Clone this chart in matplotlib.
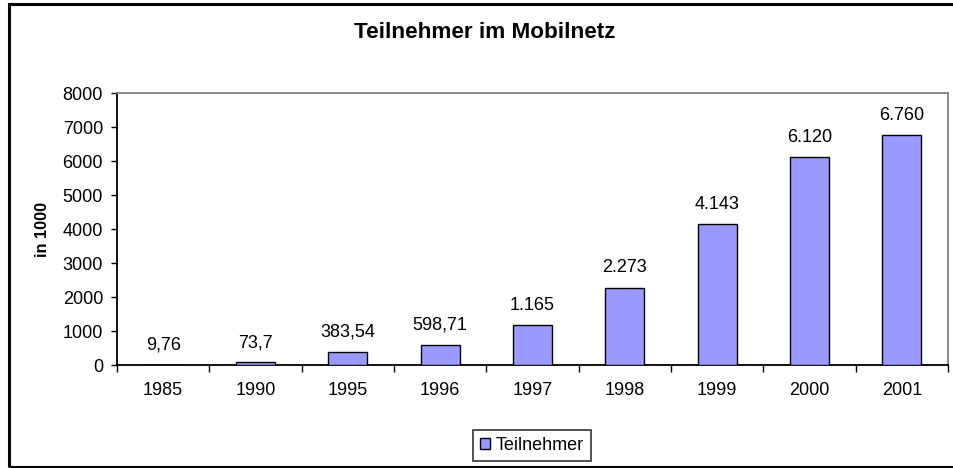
import matplotlib.pyplot as plt
from matplotlib.patches import Rectangle
import numpy as np

plt.rcParams['font.family'] = ['Liberation Sans', 'DejaVu Sans']

years = ['1985', '1990', '1995', '1996', '1997', '1998', '1999', '2000', '2001']
teilnehmer = [9.76, 73.7, 383.54, 598.71, 1165, 2273, 4143, 6120, 6760]
labels = ['9,76', '73,7', '383,54', '598,71', '1.165', '2.273', '4.143', '6.120', '6.760']

W, H = 954, 468
fs = 13
fig = plt.figure(figsize=(W / 100, H / 100), dpi=100)

# outer chart border
fig.patches.append(Rectangle((9 / W, 1 - 467 / H), 1.0, (467 - 4) / H,
                             transform=fig.transFigure, fill=False,
                             edgecolor='black', linewidth=2.2))

ax = fig.add_axes([117 / W, 1 - 365 / H, (948 - 117) / W, (365 - 93) / H])
x = np.arange(len(years))
bars = ax.bar(x, teilnehmer, width=0.42, color='#9999FF', edgecolor='black',
              linewidth=1.0, label='Teilnehmer', zorder=3)

for xi, v, t in zip(x, teilnehmer, labels):
    ax.annotate(t, (xi, v), xytext=(0, 11), textcoords='offset points',
                ha='center', va='baseline', fontsize=fs)

ax.set_xlim(-0.5, len(years) - 0.5)
ax.set_ylim(0, 8000)
ax.set_yticks(range(0, 8001, 1000))
ax.set_xticks(x)
ax.set_xticklabels(years)
ax.set_xticks(np.arange(-0.5, len(years), 1.0), minor=True)
ax.tick_params(axis='x', which='major', length=0, pad=12, labelsize=fs)
ax.tick_params(axis='x', which='minor', length=5, width=1, direction='out')
ax.tick_params(axis='y', length=4, width=1, direction='out', labelsize=fs, pad=6)

for s in ['left', 'bottom']:
    ax.spines[s].set_color('black')
    ax.spines[s].set_linewidth(1.3)
for s in ['top', 'right']:
    ax.spines[s].set_color('#808080')
    ax.spines[s].set_linewidth(1.3)

fig.text(43 / W, 1 - 229 / H, 'in 1000', rotation=90, ha='center', va='center',
         fontsize=11.7, fontweight='bold')
fig.text(485 / W, 1 - 33 / H, 'Teilnehmer im Mobilnetz', ha='center', va='center',
         fontsize=16.2, fontweight='bold')

leg = fig.legend(handles=[bars], labels=['Teilnehmer'], loc='center',
                 bbox_to_anchor=(532 / W, 1 - 445.5 / H), frameon=True,
                 fancybox=False, edgecolor='black', fontsize=fs,
                 handlelength=0.55, handleheight=0.55, handletextpad=0.35,
                 borderpad=0.4, borderaxespad=0)
leg.get_frame().set_linewidth(1.2)

fig.savefig('out.png', dpi=100)
